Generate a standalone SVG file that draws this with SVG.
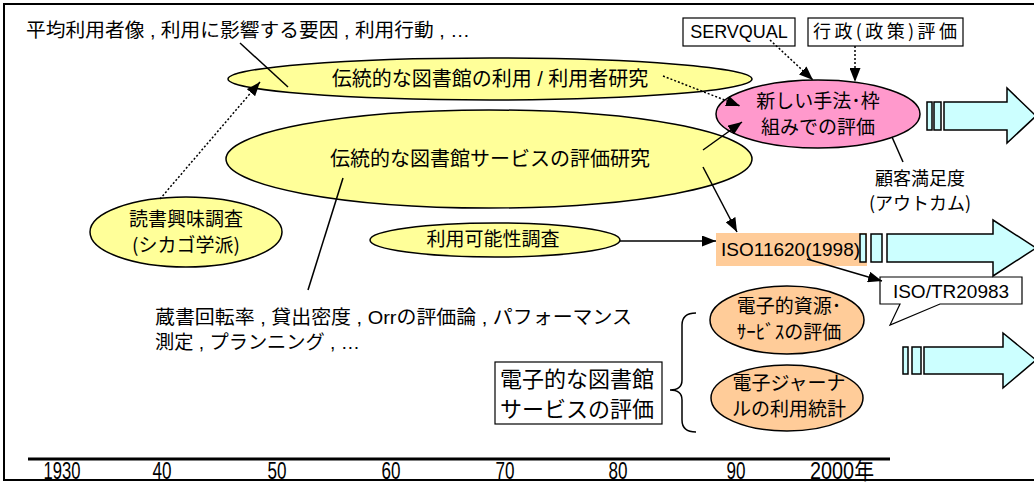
<svg xmlns="http://www.w3.org/2000/svg" width="1034" height="483" viewBox="0 0 1034 483">
<defs>
<style>
.jp{font-family:"Noto Sans CJK JP","Liberation Sans",sans-serif;fill:#000}
.mx{font-family:"Liberation Sans","Noto Sans CJK JP",sans-serif;fill:#000}
.yel{fill:#FFFF99;stroke:#000;stroke-width:1.5}
.org{fill:#FFCC99;stroke:#000;stroke-width:1.5}
.cy{fill:#CCFFFF;stroke:#000;stroke-width:1.5}
.ln{stroke:#000;stroke-width:1.5;fill:none}
.dot{stroke:#000;stroke-width:1.5;fill:none;stroke-dasharray:2 2}
.box{fill:#fff;stroke:#000;stroke-width:1.2}
</style>
<marker id="ah" viewBox="0 0 14 11" refX="14" refY="5.5" markerWidth="14" markerHeight="11" markerUnits="userSpaceOnUse" orient="auto">
<path d="M0,0 L14,5.5 L0,11 Z" fill="#000"/>
</marker>
</defs>
<rect x="0" y="0" width="1034" height="483" fill="#fff"/>
<rect x="4" y="4" width="1040" height="476" fill="none" stroke="#000" stroke-width="2"/>

<g id="timeline">
<line x1="28" y1="459" x2="890" y2="459" stroke="#000" stroke-width="3"/>
<g class="mx" font-size="23" text-anchor="middle">
<text x="62" y="479" textLength="37" lengthAdjust="spacingAndGlyphs">1930</text>
<text x="162" y="479" textLength="19" lengthAdjust="spacingAndGlyphs">40</text>
<text x="277" y="479" textLength="19" lengthAdjust="spacingAndGlyphs">50</text>
<text x="391" y="479" textLength="19" lengthAdjust="spacingAndGlyphs">60</text>
<text x="505" y="479" textLength="19" lengthAdjust="spacingAndGlyphs">70</text>
<text x="618" y="479" textLength="19" lengthAdjust="spacingAndGlyphs">80</text>
<text x="736" y="479" textLength="19" lengthAdjust="spacingAndGlyphs">90</text>
<text x="842" y="479" textLength="64" lengthAdjust="spacingAndGlyphs">2000年</text>
</g>
</g>

<g id="note-top"><text class="mx" x="26" y="37" font-size="19" textLength="444" lengthAdjust="spacingAndGlyphs">平均利用者像 , 利用に影響する要因 , 利用行動 , …</text></g>

<g id="trad-use">
<ellipse class="yel" cx="490" cy="79" rx="262" ry="21"/>
<text class="mx" x="490" y="86" font-size="20" text-anchor="middle">伝統的な図書館の利用 / 利用者研究</text>
</g>

<g id="trad-eval">
<ellipse class="yel" cx="489" cy="159" rx="263" ry="49"/>
<text class="jp" x="490" y="166" font-size="20" text-anchor="middle">伝統的な図書館サービスの評価研究</text>
</g>

<g id="reading">
<ellipse class="yel" cx="186" cy="232" rx="96" ry="35"/>
<text class="jp" x="186" y="226" font-size="19" text-anchor="middle">読書興味調査</text>
<text class="jp" x="186" y="252" font-size="19" text-anchor="middle">(シカゴ学派)</text>
</g>

<g id="availability">
<ellipse class="yel" cx="495" cy="240" rx="125" ry="17"/>
<text class="jp" x="493" y="246" font-size="19" text-anchor="middle">利用可能性調査</text>
</g>

<g id="new-method">
<ellipse cx="818" cy="114" rx="102" ry="34" fill="#FF99CC" stroke="#000" stroke-width="1.5"/>
<text class="jp" x="818" y="108" font-size="19" text-anchor="middle">新しい手法･枠</text>
<text class="jp" x="818" y="134" font-size="19" text-anchor="middle">組みでの評価</text>
</g>

<g id="servqual">
<rect class="box" x="683" y="18" width="112" height="28"/>
<text class="mx" x="739" y="38" font-size="18" text-anchor="middle">SERVQUAL</text>
</g>

<g id="gyosei">
<rect class="box" x="808" y="18" width="155" height="28"/>
<text class="jp" x="885" y="38" font-size="18" text-anchor="middle" textLength="144" lengthAdjust="spacing">行政(政策)評価</text>
</g>

<g id="outcome">
<text class="jp" x="920" y="185" font-size="18" text-anchor="middle">顧客満足度</text>
<text class="jp" x="920" y="210" font-size="18" text-anchor="middle">(アウトカム)</text>
</g>

<g id="iso11620">
<rect x="716" y="233" width="151" height="33" fill="#FFCC99"/>
<text class="mx" x="721" y="256" font-size="19">ISO11620(1998)</text>
</g>

<g id="isotr">
<path class="box" d="M880,277 H1022 V304 H940 L890,325 L900,304 H880 Z"/>
<text class="mx" x="951" y="298" font-size="19" text-anchor="middle">ISO/TR20983</text>
</g>

<g id="e-resource">
<ellipse class="org" cx="787" cy="320" rx="77" ry="34"/>
<text class="jp" x="789" y="313" font-size="19" text-anchor="middle">電子的資源･</text>
<text class="jp" x="789" y="339" font-size="19" text-anchor="middle">ｻｰﾋﾞｽの評価</text>
</g>

<g id="e-journal">
<ellipse class="org" cx="787" cy="398" rx="76" ry="33"/>
<text class="jp" x="789" y="390" font-size="19" text-anchor="middle">電子ジャーナ</text>
<text class="jp" x="789" y="416" font-size="19" text-anchor="middle">ルの利用統計</text>
</g>

<g id="e-lib">
<rect class="box" x="495" y="362" width="167" height="62"/>
<text class="jp" x="500" y="387" font-size="22">電子的な図書館</text>
<text class="jp" x="500" y="417" font-size="22">サービスの評価</text>
<path class="ln" d="M696,313 Q682,313 682,325 V380 Q682,390 670,390 Q682,390 682,400 V420 Q682,432 696,432"/>
</g>

<g id="note-bottom">
<text class="mx" x="155" y="324" font-size="19" textLength="477" lengthAdjust="spacingAndGlyphs">蔵書回転率 , 貸出密度 , Orrの評価論 , パフォーマンス</text>
<text class="mx" x="155" y="349" font-size="19" textLength="205" lengthAdjust="spacingAndGlyphs">測定 , プランニング , …</text>
</g>

<g id="trend-arrows">
<rect class="cy" x="927" y="102" width="5" height="28"/>
<rect class="cy" x="934" y="102" width="7" height="28"/>
<path class="cy" d="M944,102 H1007 V88 L1036,116 L1007,143 V130 H944 Z"/>
<rect class="cy" x="860" y="234" width="6" height="28"/>
<rect class="cy" x="871" y="234" width="11" height="28"/>
<path class="cy" d="M887,234 H993 V220 L1036,248 L993,276 V262 H887 Z"/>
<rect class="cy" x="903" y="347" width="5" height="27"/>
<rect class="cy" x="912" y="347" width="9" height="27"/>
<path class="cy" d="M924,347 H1003 V333 L1036,360 L1003,388 V374 H924 Z"/>
</g>

<g id="connectors">
<line class="ln" x1="240" y1="43" x2="288" y2="87"/>
<line class="dot" x1="160" y1="199" x2="260" y2="82" marker-end="url(#ah)"/>
<line class="ln" x1="343" y1="178" x2="308" y2="290"/>
<line class="dot" x1="663" y1="76" x2="740" y2="106" marker-end="url(#ah)"/>
<line class="ln" x1="703" y1="150" x2="742" y2="122" marker-end="url(#ah)"/>
<line class="dot" x1="770" y1="40" x2="813" y2="80" marker-end="url(#ah)"/>
<line class="dot" x1="855" y1="46" x2="855" y2="82" marker-end="url(#ah)"/>
<line class="ln" x1="892" y1="137" x2="903" y2="162"/>
<line class="ln" x1="703" y1="167" x2="737" y2="232" marker-end="url(#ah)"/>
<line class="ln" x1="620" y1="241" x2="716" y2="241" marker-end="url(#ah)"/>
<line class="ln" x1="807" y1="259" x2="882" y2="281" marker-end="url(#ah)"/>
</g>
</svg>
